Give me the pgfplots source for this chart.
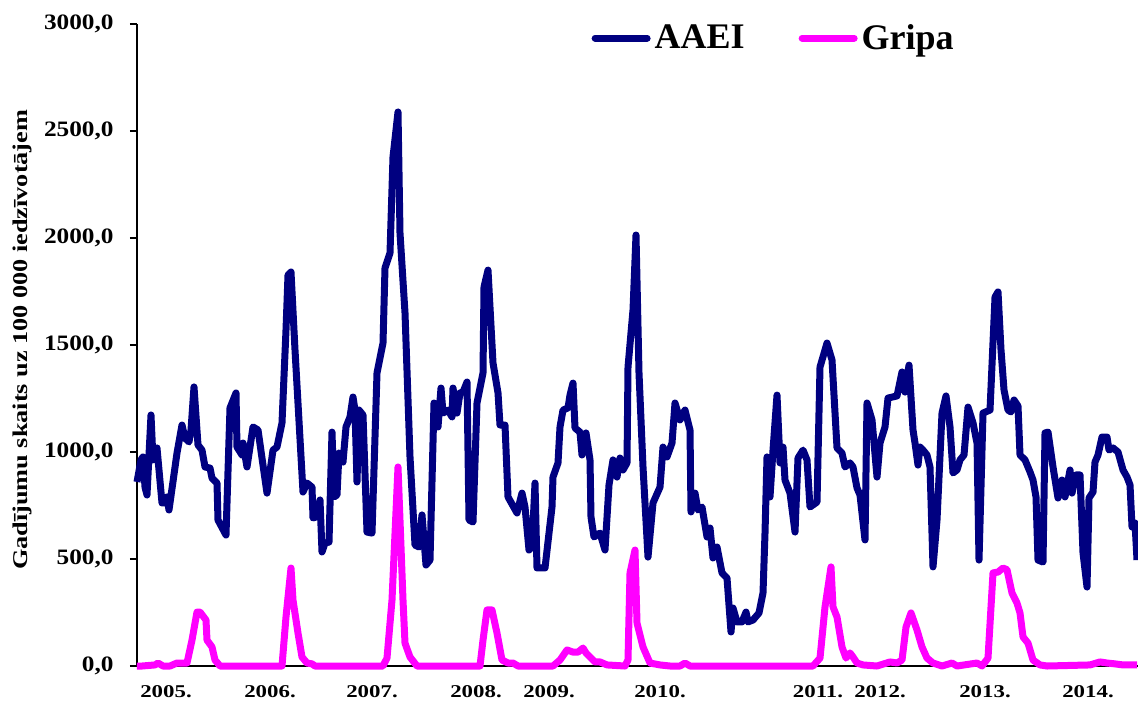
\documentclass[border=0pt]{standalone}
\usepackage{fontspec}
\setmainfont{Liberation Serif}
\usepackage{graphicx}
\usepackage{pgfplots}
\pgfplotsset{compat=1.18}
\definecolor{aaei}{HTML}{000080}
\definecolor{gripa}{HTML}{FF00FF}
\newcommand\sy[1]{\scalebox{1.15}[1]{#1}}
\newcommand\sx[1]{\scalebox{1.27}[1]{#1}}

\begin{document}
\begin{tikzpicture}
\begin{axis}[
    scale only axis,
    width=500.5pt, height=321pt,
    xmin=137, xmax=1138,
    ymin=0, ymax=3000,
    clip=false,
    axis lines=left,
    axis line style={-, line width=1pt},
    tick align=outside,
    major tick length=3.5pt,
    minor tick length=1.6pt,
    every tick/.style={black, line width=0.8pt},
    ytick={0,500,1000,1500,2000,2500,3000},
    yticklabels={\sy{0,0},\sy{500,0},\sy{1000,0},\sy{1500,0},\sy{2000,0},\sy{2500,0},\sy{3000,0}},
    yticklabel style={font=\bfseries\fontsize{11}{11}\selectfont, anchor=east, inner sep=0pt, xshift=-8pt},
    xtick=\empty,
    minor xtick={137,139.5,...,1138},
    extra x ticks={166,270,372,476,549,660,818,880,985,1088},
    extra x tick labels={\sx{2005.},\sx{2006.},\sx{2007.},\sx{2008.},\sx{2009.},\sx{2010.},\sx{2011.},\sx{2012.},\sx{2013.},\sx{2014.}},
    extra x tick style={major tick length=0pt},
    xticklabel style={font=\bfseries\fontsize{9}{9}\selectfont, anchor=center, yshift=-13pt},
    ylabel={\scalebox{1.25}[1]{Gadījumu skaits uz 100 000 iedzīvotājem}},
    ylabel style={font=\bfseries\fontsize{10.5}{12}\selectfont, at={(axis description cs:-0.1149,0.508)}, anchor=center},
    legend style={at={(rel axis cs:0.637,0.978)}, anchor=center, draw=none, fill=none,
        font=\bfseries\fontsize{18}{18}\selectfont, legend columns=2,
        nodes={inner sep=2pt},
        /tikz/every even column/.append style={column sep=25pt}},
    legend image code/.code={\draw[#1, line cap=round] (0pt,0pt) -- (26pt,0pt);},
]
\addplot[aaei, line width=3.5pt, line join=round] coordinates {
(137,860) (141,963) (143,977) (145,836) (147,799) (151,1173) (153,963) (157,1019)
(162,762) (165,762) (167,790) (169,729) (177,995) (182,1126) (185,1065) (189,1047)
(191,1103) (194,1304) (198,1033) (202,1009) (205,930) (210,925) (212,878) (217,855)
(218,682) (226,612) (230,1206) (236,1276) (237,1023) (242,986) (243,1042) (247,930)
(253,1117) (258,1103) (267,808) (273,1009) (277,1023) (282,1136) (286,1570) (288,1827)
(291,1841) (295,1477) (303,813) (307,855) (312,836) (313,692) (316,696) (320,776)
(322,533) (325,575) (329,579) (332,1093) (334,790) (337,799) (339,995) (343,953)
(346,1117) (350,1164) (353,1257) (355,1196) (357,860) (359,1196) (363,1173) (367,626)
(372,621) (377,1369) (383,1509) (385,1860) (390,1930) (393,2379) (398,2589) (400,2023)
(405,1650) (410,977) (415,565) (419,556) (422,706) (426,472) (430,495) (434,1229)
(438,1117) (441,1299) (443,1182) (448,1196) (452,1164) (453,1299) (457,1182) (460,1276)
(463,1280) (467,1327) (469,682) (473,673) (477,1229) (483,1369) (484,1771) (488,1850)
(493,1416) (498,1276) (500,1126) (505,1126) (508,790) (517,715) (522,808) (525,743)
(529,542) (532,556) (535,855) (537,458) (545,458) (552,743) (553,883) (558,949)
(560,1117) (563,1196) (568,1206) (570,1266) (573,1322) (575,1112) (580,1093) (582,986)
(586,1089) (590,963) (591,696) (594,603) (600,621) (605,542) (609,846) (613,963)
(617,883) (620,972) (623,916) (627,949) (628,1397) (633,1664) (636,2014) (639,1369)
(643,930) (648,509) (653,762) (660,836) (663,1023) (667,977) (672,1042) (675,1229)
(680,1150) (685,1196) (690,1103) (691,720) (695,808) (698,729) (702,743) (707,603)
(710,645) (713,505) (717,556) (722,435) (727,411) (731,159) (733,271) (737,206)
(742,206) (746,252) (748,206) (753,215) (759,248) (763,341) (765,621) (767,977)
(770,790) (773,1009) (777,1266) (780,949) (783,1023) (785,869) (790,808) (795,626)
(798,972) (803,1009) (807,963) (810,743) (817,766) (820,1397) (827,1509) (832,1430)
(837,1019) (842,995) (845,930) (850,949) (853,930) (857,832) (860,799) (865,589)
(867,1229) (872,1150) (877,883) (880,1042) (885,1117) (888,1252) (897,1262) (902,1374)
(905,1280) (909,1406) (913,1103) (915,1042) (918,939) (920,1023) (923,1009) (927,986)
(930,930) (933,463) (937,682) (942,1182) (946,1262) (950,1117) (953,902) (957,916)
(960,963) (964,986) (968,1210) (973,1136) (977,1042) (979,495) (983,1182) (990,1196)
(995,1724) (998,1748) (1001,1477) (1004,1290) (1008,1196) (1011,1187) (1014,1243) (1018,1215)
(1020,986) (1025,963) (1030,907) (1033,869) (1036,790) (1038,495) (1043,486) (1045,1089)
(1048,1093) (1053,930) (1058,785) (1062,869) (1065,790) (1070,916) (1072,808) (1076,893)
(1080,893) (1083,528) (1087,369) (1089,785) (1093,813) (1095,953) (1098,986) (1102,1070)
(1107,1070) (1109,1009) (1113,1019) (1118,1000) (1123,916) (1127,883) (1130,846) (1132,650)
(1135,668) (1137,495)
};
\addlegendentry{AAEI}
\addplot[gripa, line width=3.5pt, line join=round] coordinates {
(137,0) (142,0) (155,5) (158,14) (163,0) (170,0) (177,14) (187,14)
(192,121) (197,252) (200,252) (206,215) (207,121) (212,89) (215,28) (220,0)
(282,0) (286,229) (291,458) (293,308) (298,154) (302,42) (307,14) (312,10) (315,0)
(383,0) (387,37) (392,308) (398,930) (403,308) (405,107) (410,42) (417,0)
(480,0) (483,121) (487,262) (492,262) (497,154) (502,28) (508,14) (513,14) (518,0)
(553,0) (560,28) (567,75) (573,65) (578,65) (583,84) (586,61) (590,42) (595,19)
(600,19) (607,5) (625,0) (628,28) (630,435) (635,542) (637,201) (643,89) (650,14)
(660,5) (670,0) (680,0) (685,14) (690,0)
(813,0) (820,37) (825,276) (831,463) (833,276) (837,229) (842,89) (846,37) (850,61)
(853,42) (857,14) (863,5) (877,0) (890,19) (897,14) (902,28) (906,182) (911,248)
(917,168) (922,89) (927,37) (933,14) (942,0) (952,14) (957,0) (977,14) (982,0)
(988,37) (993,435) (998,439) (1003,458) (1007,450) (1012,341) (1017,294) (1020,248)
(1023,136) (1028,107) (1033,28) (1040,5) (1047,0) (1090,5) (1100,19) (1107,14)
(1115,10) (1123,5) (1130,5) (1137,5)
};
\addlegendentry{Gripa}
\coordinate (bl) at (axis cs:0,-168.2);
\coordinate (tr) at (axis cs:1138,3112.2);
\end{axis}
\pgfresetboundingbox
\path[use as bounding box] (bl) rectangle (tr);
\end{tikzpicture}
\end{document}
